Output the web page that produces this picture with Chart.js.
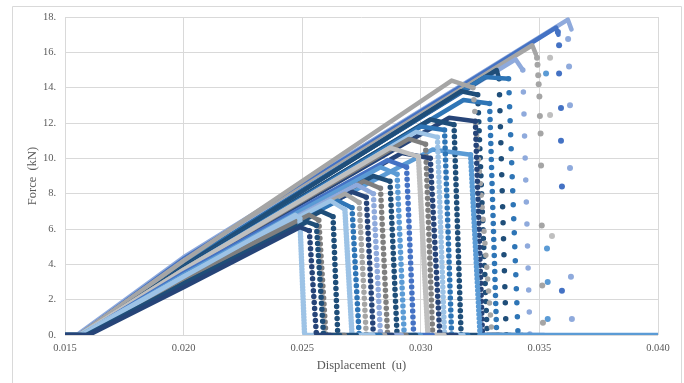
<!DOCTYPE html>
<html>
<head>
<meta charset="utf-8">
<script src="https://cdn.jsdelivr.net/npm/chart.js@4.4.1/dist/chart.umd.min.js"></script>
<style>
  html, body { margin: 0; padding: 0; background: #fff; }
  #wrap { width: 684px; height: 383px; }
</style>
</head>
<body>
<div id="wrap"><canvas id="forceChart" width="684" height="383"></canvas></div>
<script>
// one entry per specimen: start of loading, force at 0.020, peak, bend of the drop, end of drop, end of residual tail
const startDisp = [0.0160, 0.0159, 0.0157, 0.0157, 0.0158, 0.0156, 0.0157, 0.0157, 0.0158, 0.0157, 0.0157, 0.0158, 0.0157, 0.0157, 0.0156, 0.0158, 0.0156, 0.0157, 0.0157, 0.0158, 0.0157, 0.0157, 0.0156, 0.0157, 0.0157, 0.0156, 0.0157, 0.0156, 0.0156, 0.0156, 0.0155];
const forceAt020 = [2.7, 2.9, 3.3, 3.2, 3.0, 3.3, 3.1, 3.2, 3.1, 3.3, 3.2, 3.2, 3.4, 3.5, 3.7, 3.3, 3.7, 3.7, 3.7, 3.1, 3.8, 3.6, 4.2, 3.8, 3.9, 4.0, 4.0, 4.1, 4.2, 4.3, 4.4];
const peakDisp = [0.0249, 0.0252, 0.0247, 0.0253, 0.0258, 0.0262, 0.0265, 0.0268, 0.0271, 0.0273, 0.0276, 0.0280, 0.0283, 0.0286, 0.0287, 0.0292, 0.0295, 0.0298, 0.0300, 0.0305, 0.0304, 0.0312, 0.0313, 0.0318, 0.0317, 0.0327, 0.0332, 0.0340, 0.0347, 0.0357, 0.0362];
const peakForce = [6.1, 6.4, 6.8, 6.8, 7.0, 7.6, 7.6, 8.0, 8.1, 8.5, 8.7, 9.0, 9.5, 9.9, 10.6, 10.3, 11.1, 11.5, 11.8, 10.5, 12.2, 12.3, 14.4, 13.3, 13.8, 14.6, 15.0, 15.6, 16.4, 17.4, 17.85];
const bendDisp = [0.0253, 0.0256, 0.0249, 0.0257, 0.0263, 0.0268, 0.0271, 0.0274, 0.0277, 0.0280, 0.0283, 0.0287, 0.0290, 0.0294, 0.0299, 0.0304, 0.0302, 0.0307, 0.0310, 0.0321, 0.0314, 0.0323, 0.0322, 0.0329, 0.0324, 0.0337, 0.0333, 0.0343, 0.03485, 0.0358, 0.03635];
const bendForce = [5.9, 6.2, 6.6, 6.5, 6.7, 7.1, 7.2, 7.5, 7.8, 8.0, 8.3, 8.7, 9.1, 9.5, 10.1, 10.0, 10.8, 11.2, 11.6, 10.2, 11.9, 12.1, 14.0, 13.1, 13.6, 14.5, 14.5, 15.0, 15.9, 17.0, 17.3];
const dropDisp = [0.0256, 0.0259, 0.0251, 0.0260, 0.0265, 0.0271, 0.0274, 0.0277, 0.0280, 0.0283, 0.0286, 0.0290, 0.0293, 0.0297, 0.0303, 0.0308, 0.0305, 0.0310, 0.0313, 0.0325, 0.0317, 0.0326, 0.0330, 0.0332, 0.0328, 0.0341, 0.0336, 0.0346, null, null, null];
const tailDisp = [0.0262, 0.0266, 0.0258, 0.0268, 0.0273, 0.0280, 0.0283, 0.0285, 0.0288, 0.0292, 0.0294, 0.0298, 0.0300, 0.0305, 0.0310, 0.0315, 0.0312, 0.0318, 0.0320, 0.0400, 0.0325, 0.0333, 0.0336, 0.0338, 0.0334, 0.0346, 0.0343, 0.0352, null, null, null];

// points left behind by the last specimens after failure
const looseGrayDisp = [0.03490, 0.03492, 0.03495, 0.03497, 0.03500, 0.03502, 0.03505, 0.03507, 0.03510, 0.03512, 0.03515];
const looseGrayForce = [15.7, 15.3, 14.7, 14.2, 13.5, 12.4, 11.4, 9.6, 6.2, 2.8, 0.7];
const looseLightGrayDisp = [0.03545, 0.03545, 0.03553];
const looseLightGrayForce = [15.7, 12.45, 5.6];
const looseBlueDisp = [0.03578, 0.03583, 0.03583, 0.03591, 0.03591, 0.03595, 0.03595];
const looseBlueForce = [17.15, 16.4, 14.8, 12.85, 11.0, 8.4, 2.5];
const looseLightBlueDisp = [0.03621, 0.03625, 0.03629, 0.03629, 0.03633, 0.03637];
const looseLightBlueForce = [16.75, 15.2, 13.0, 9.45, 3.3, 0.9];
const looseMidBlueDisp = [0.03528, 0.03532, 0.03535, 0.03535];
const looseMidBlueForce = [14.8, 4.9, 3.0, 0.9];

const xTicks = [0.015, 0.020, 0.025, 0.030, 0.035, 0.040];
const yTicks = [0, 2, 4, 6, 8, 10, 12, 14, 16, 18];

const lineColors = ['#264478', '#1f4e79', '#9dc3e6', '#7f7f7f', '#1f4e79', '#9dc3e6', '#2e75b6', '#a5a5a5', '#264478', '#8faadc', '#7f7f7f', '#1f4e79', '#5b9bd5', '#4472c4', '#bfbfbf', '#264478', '#7f7f7f', '#9dc3e6', '#2e75b6', '#5b9bd5', '#1f4e79', '#264478', '#a5a5a5', '#2e75b6', '#1f4e79', '#2e75b6', '#1f4e79', '#8faadc', '#a5a5a5', '#4472c4', '#8faadc'];
const dotGap = [6, 6, 3, 6, 6, 3, 6, 6, 6, 6, 6, 6, 6, 6, 3, 6, 6, 5, 6, 4, 6, 6, 12, 8, 9, 14, 16, 22, 0, 0, 0];

const datasets = [];

peakDisp.forEach((pd, i) => {
    const pts = [
        { x: xTicks[0], y: 0 },
        { x: startDisp[i], y: 0 },
        { x: 0.020, y: forceAt020[i] },
        { x: pd, y: peakForce[i] },
        { x: bendDisp[i], y: bendForce[i] }
    ];
    if (dropDisp[i] !== null) {
        pts.push({ x: dropDisp[i], y: 0 }, { x: tailDisp[i], y: 0 });
    }
    const gap = dotGap[i];
    datasets.push({
        data: pts,
        showLine: true,
        borderColor: lineColors[i],
        backgroundColor: lineColors[i],
        borderWidth: 4.5,
        borderCapStyle: 'round',
        borderJoinStyle: 'round',
        pointRadius: 0,
        segment: {
            borderDash: ctx => ctx.p0DataIndex === 4 ? [0, gap] : undefined,
            borderWidth: ctx => ctx.p0DataIndex === 4 ? 5.5 : undefined
        }
    });
});

function looseSet(disp, force, color) {
    return {
        data: disp.map((d, i) => ({ x: d, y: force[i] })),
        showLine: false,
        pointRadius: 3,
        pointBorderWidth: 0,
        backgroundColor: color,
        borderColor: color
    };
}

datasets.push(
    looseSet(looseGrayDisp, looseGrayForce, '#a5a5a5'),
    looseSet(looseLightGrayDisp, looseLightGrayForce, '#bfbfbf'),
    looseSet(looseMidBlueDisp, looseMidBlueForce, '#5b9bd5'),
    looseSet(looseBlueDisp, looseBlueForce, '#4472c4'),
    looseSet(looseLightBlueDisp, looseLightBlueForce, '#8faadc')
);

const frame = {
    id: 'frame',
    beforeDraw(chart) {
        const ctx = chart.ctx;
        ctx.save();
        ctx.strokeStyle = '#d9d9d9';
        ctx.lineWidth = 1;
        ctx.beginPath();
        ctx.moveTo(12.5, 383);
        ctx.lineTo(12.5, 6.5);
        ctx.lineTo(681.5, 6.5);
        ctx.lineTo(681.5, 383);
        ctx.stroke();
        ctx.restore();
    }
};

Chart.defaults.font.family = "'Liberation Serif', 'Times New Roman', serif";
Chart.defaults.color = '#595959';

new Chart(document.getElementById('forceChart'), {
    type: 'scatter',
    data: { datasets },
    plugins: [frame],
    options: {
        responsive: false,
        animation: false,
        devicePixelRatio: 1,
        layout: { padding: { left: 12, right: 26, top: 17, bottom: 10 } },
        plugins: {
            legend: { display: false },
            tooltip: { enabled: false }
        },
        scales: {
            x: {
                type: 'linear',
                min: xTicks[0],
                max: xTicks[xTicks.length - 1],
                afterBuildTicks: scale => { scale.ticks = xTicks.map(v => ({ value: v })); },
                afterFit: scale => { scale.height = 38; },
                ticks: {
                    callback: v => v.toFixed(3),
                    font: { size: 10.5 },
                    color: '#595959',
                    padding: 7,
                    maxRotation: 0
                },
                grid: { color: '#d9d9d9', drawTicks: false },
                border: { display: false },
                title: {
                    display: true,
                    text: 'Displacement  (u)',
                    font: { size: 12.5 },
                    color: '#595959',
                    padding: { top: 0, bottom: 0 }
                }
            },
            y: {
                min: yTicks[0],
                max: yTicks[yTicks.length - 1],
                afterBuildTicks: scale => { scale.ticks = yTicks.map(v => ({ value: v })); },
                afterFit: scale => { scale.width = 53; },
                ticks: {
                    callback: v => v + '.',
                    font: { size: 10.5 },
                    color: '#595959',
                    padding: 9
                },
                grid: { color: '#d9d9d9', drawTicks: false },
                border: { display: false },
                title: {
                    display: true,
                    text: 'Force  (kN)',
                    font: { size: 12.5 },
                    color: '#595959',
                    padding: { top: 13, bottom: 0 }
                }
            }
        }
    }
});
</script>
</body>
</html>
